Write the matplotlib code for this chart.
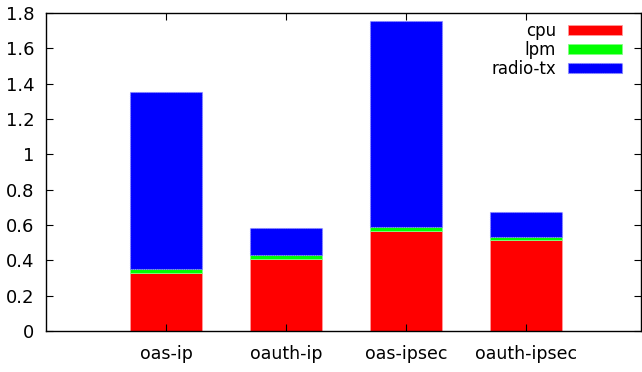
import matplotlib
matplotlib.use("Agg")
import matplotlib.pyplot as plt
import numpy as np

categories = ["oas-ip", "oauth-ip", "oas-ipsec", "oauth-ipsec"]
cpu = [0.33, 0.405, 0.568, 0.515]
lpm = [0.02, 0.025, 0.019, 0.015]
radio_tx = [1.0, 0.155, 1.167, 0.145]
yticks = [0, 0.2, 0.4, 0.6, 0.8, 1, 1.2, 1.4, 1.6, 1.8]
ytick_labels = ["0", "0.2", "0.4", "0.6", "0.8", "1", "1.2", "1.4", "1.6", "1.8"]

plt.rcParams['font.family'] = ['DejaVu Sans']

fig = plt.figure(figsize=(6.42, 3.72), dpi=100)
ax = fig.add_axes([46/642, 41/372, 595/642, 318/372])

x = np.arange(len(categories))
w = 0.6
cpu_a = np.array(cpu)
lpm_a = np.array(lpm)
rad_a = np.array(radio_tx)
ax.bar(x, cpu_a, w, color="#ff0000", edgecolor="#ff9a9a", linewidth=0.6, label="cpu")
ax.bar(x, lpm_a, w, bottom=cpu_a, color="#00ff00", edgecolor="#80ff80", linewidth=0.6, label="lpm")
ax.bar(x, rad_a, w, bottom=cpu_a + lpm_a, color="#0000ff", edgecolor="#8a8aff",
       linewidth=0.8, linestyle=(0, (1, 1)), label="radio-tx")

ax.set_xlim(-1.0, 3.96)
ax.set_ylim(0, 1.8)
ax.set_xticks(x)
ax.set_xticklabels(categories, fontsize=12.5)
ax.set_yticks(yticks)
ax.set_yticklabels(ytick_labels, fontsize=13)
ax.tick_params(direction="in", top=True, right=True, length=5, width=0.8,
               colors="#000000")
ax.tick_params(axis="y", pad=8.5)
ax.tick_params(axis="x", pad=10)
for s in ax.spines.values():
    s.set_linewidth(1.0)

leg = ax.legend(loc="upper right", frameon=False, markerfirst=False,
                prop={'family': 'DejaVu Sans', 'size': 12},
                handlelength=3.25, handleheight=0.6,
                labelspacing=0.06, handletextpad=0.7,
                borderpad=0.0, borderaxespad=0.0,
                bbox_to_anchor=((621.7 - 46) / 595, (331 - 21.7) / 318))
for t in leg.get_texts():
    t.set_ha("right")

fig.savefig("out.png", dpi=100)
